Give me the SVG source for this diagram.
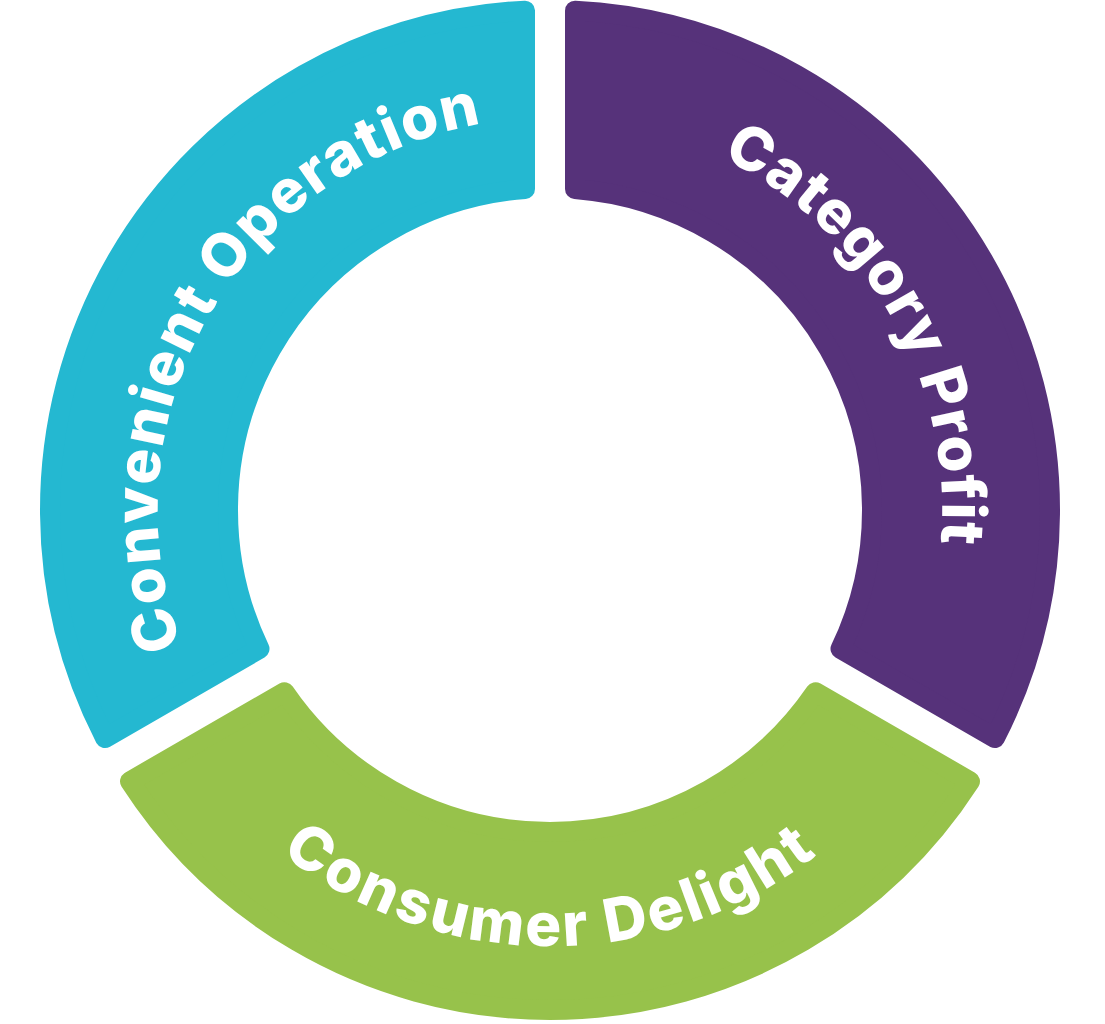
<svg xmlns="http://www.w3.org/2000/svg" width="1105" height="1024" viewBox="0 0 1105 1024">
<style>
.seg{stroke-width:20;stroke-linejoin:round}
.lbl{font-family:Inter,"Open Sans","Liberation Sans",sans-serif;font-weight:800;font-size:60px;fill:#ffffff}
</style>
<defs>
<path id="pLeft" d="M 325.1 831.1 A 392 392 0 0 1 715.7 154.7"/>
<path id="pRight" d="M 400.0 147.8 A 392 392 0 0 1 783.2 825.1"/>
<path id="pBottom" d="M 120.6 585.7 A 436 436 0 0 0 979.4 585.7"/>
</defs>
<rect width="1105" height="1024" fill="#ffffff"/>
<g id="convenient-operation">
<path class="seg" fill="#24b8d1" stroke="#24b8d1" d="M 105.03 738.04 A 500 500 0 0 1 525 10.63 L 525 188.97 A 322 322 0 0 0 259.48 648.87 Z"/>
<text class="lbl" letter-spacing="1.8"><textPath href="#pLeft" startOffset="50%" text-anchor="middle">Convenient Operation</textPath></text>
</g>
<g id="category-profit">
<path class="seg" fill="#56327a" stroke="#56327a" d="M 575 10.63 A 500 500 0 0 1 994.97 738.04 L 840.52 648.87 A 322 322 0 0 0 575 188.97 Z"/>
<text class="lbl" letter-spacing="1.2"><textPath href="#pRight" startOffset="50%" text-anchor="middle">Category Profit</textPath></text>
</g>
<g id="consumer-delight">
<path class="seg" fill="#97c24b" stroke="#97c24b" d="M 969.97 781.34 A 500 500 0 0 1 130.03 781.34 L 284.48 692.17 A 322 322 0 0 0 815.52 692.17 Z"/>
<text class="lbl" letter-spacing="2.8"><textPath href="#pBottom" startOffset="50%" text-anchor="middle">Consumer Delight</textPath></text>
</g>
<g id="connectors"></g>
</svg>
